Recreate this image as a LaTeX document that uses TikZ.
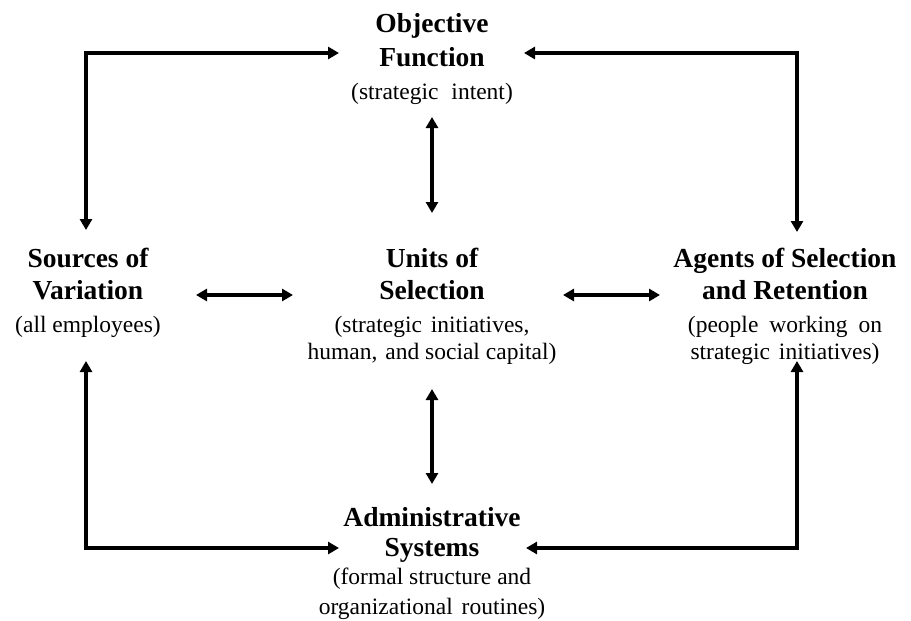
\documentclass[tikz,border=0pt]{standalone}
\usepackage{fontspec}
\setmainfont{Liberation Serif}
\usetikzlibrary{arrows.meta}
\begin{document}
\begin{tikzpicture}[x=1pt,y=-1pt,
  ttl/.style={anchor=base,inner sep=0pt,font=\fontsize{27.5}{32}\selectfont\bfseries},
  sub/.style={anchor=base,inner sep=0pt,font=\fontsize{23.5}{28}\selectfont},
  conn/.style={line width=3.6pt,{Triangle[length=11pt,width=12pt]}-{Triangle[length=11pt,width=12pt]}}]
\useasboundingbox (0,0) rectangle (911,621);
% Objective Function
\node[ttl] (obj1) at (432,32) {Objective};
\node[ttl] (obj2) at (432,66) {Function};
\node[sub] (obj3) at (432,99) {(strategic\hspace{7pt} intent)};
% Sources of Variation
\node[ttl] (src1) at (88,267) {Sources of};
\node[ttl] (src2) at (88,299) {Variation};
\node[sub] (src3) at (88,332) {(all employees)};
% Units of Selection
\node[ttl] (uni1) at (432,267) {Units of};
\node[ttl] (uni2) at (432,299) {Selection};
\node[sub] (uni3) at (432,332) {(strategic\hspace{3pt} initiatives,};
\node[sub] (uni4) at (432,359) {human,\hspace{2pt} and social capital)};
% Agents
\node[ttl] (agt1) at (785,267) {Agents of Selection};
\node[ttl] (agt2) at (785,299) {and Retention};
\node[sub] (agt3) at (785,332) {(people\hspace{5pt} working\hspace{5pt} on};
\node[sub] (agt4) at (785,359) {strategic\hspace{3pt} initiatives)};
% Administrative Systems
\node[ttl] (adm1) at (432,526) {Administrative};
\node[ttl] (adm2) at (432,556) {Systems};
\node[sub] (adm3) at (432,584) {(formal structure and};
\node[sub] (adm4) at (432,614) {organizational\hspace{3pt} routines)};
% connector end points
\coordinate (objL) at (339,53);
\coordinate (objR) at (524,53);
\coordinate (objB) at (432,213);
\coordinate (objT) at (432,117);
\coordinate (srcT) at (86,230);
\coordinate (srcB) at (86,361);
\coordinate (srcR) at (196,295);
\coordinate (uniL) at (293,295);
\coordinate (uniR) at (563,295);
\coordinate (uniB) at (432,389);
\coordinate (agtL) at (660,295);
\coordinate (agtT) at (797,232);
\coordinate (agtB) at (797,361);
\coordinate (admT) at (432,484);
\coordinate (admL) at (339,548);
\coordinate (admR) at (526,548);
% connectors
\draw[conn] (srcT) |- (objL);
\draw[conn] (objR) -| (agtT);
\draw[conn] (objT) -- (objB);
\draw[conn] (srcR) -- (uniL);
\draw[conn] (uniR) -- (agtL);
\draw[conn] (uniB) -- (admT);
\draw[conn] (srcB) |- (admL);
\draw[conn] (agtB) |- (admR);
\end{tikzpicture}
\end{document}
